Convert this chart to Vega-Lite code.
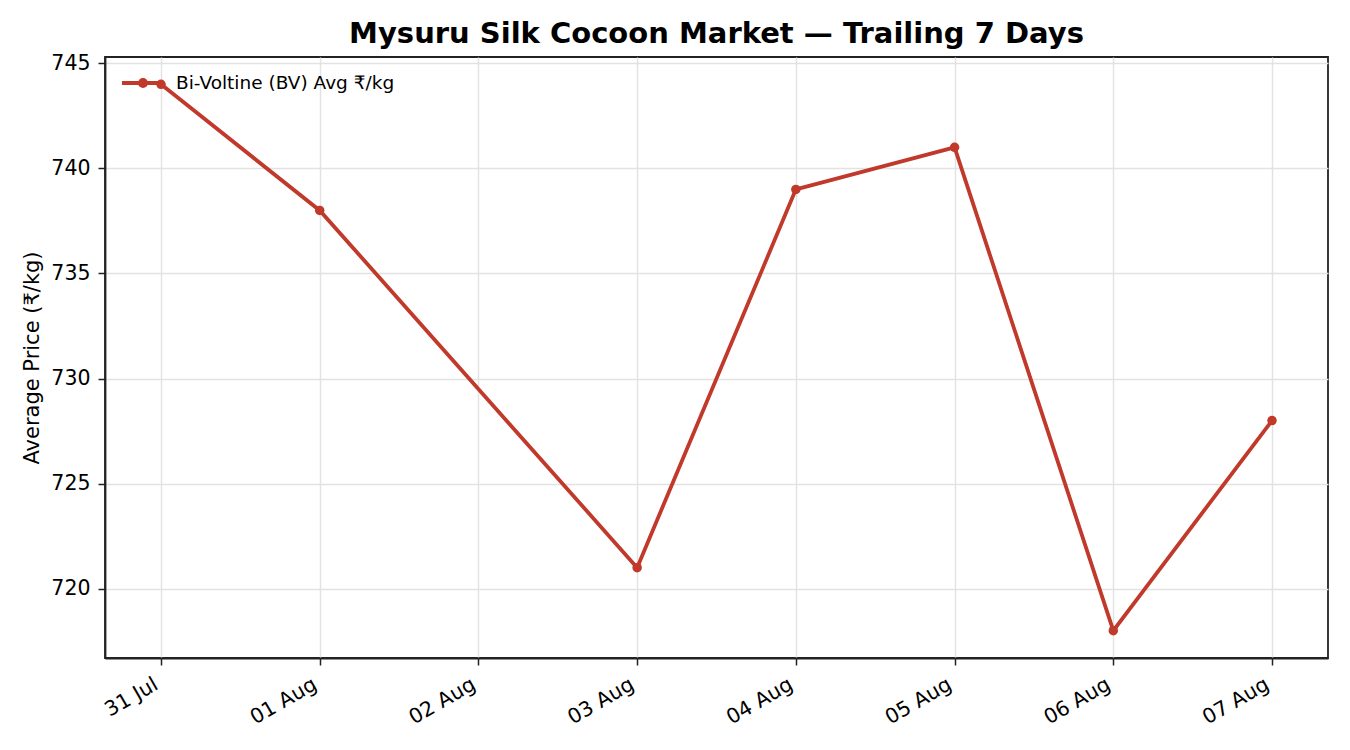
{
  "$schema": "https://vega.github.io/schema/vega-lite/v6.json",
  "autosize": "none",
  "width": 1223,
  "height": 601,
  "padding": {"left": 105, "top": 57, "right": 22, "bottom": 92},
  "background": "white",
  "config": {
    "font": "DejaVu Sans",
    "view": {"stroke": "#222222", "strokeWidth": 1.8},
    "axis": {
      "labelFont": "DejaVu Sans",
      "titleFont": "DejaVu Sans",
      "labelFontSize": 20.5,
      "titleFontSize": 21,
      "labelColor": "#000000",
      "titleColor": "#000000",
      "titleFontWeight": "normal",
      "domainColor": "#222222",
      "domainWidth": 1.8,
      "tickColor": "#222222",
      "tickWidth": 1.5,
      "tickSize": 7,
      "gridColor": "#e2e2e2",
      "gridWidth": 1.4
    }
  },
  "title": {
    "text": "Mysuru Silk Cocoon Market — Trailing 7 Days",
    "font": "DejaVu Sans",
    "fontSize": 29,
    "fontWeight": "bold",
    "color": "#000000",
    "anchor": "middle",
    "offset": 4
  },
  "data": {
    "values": [
      {"date": "2025-07-31", "price": 744, "series": "Bi-Voltine (BV) Avg ₹/kg"},
      {"date": "2025-08-01", "price": 738, "series": "Bi-Voltine (BV) Avg ₹/kg"},
      {"date": "2025-08-03", "price": 721, "series": "Bi-Voltine (BV) Avg ₹/kg"},
      {"date": "2025-08-04", "price": 739, "series": "Bi-Voltine (BV) Avg ₹/kg"},
      {"date": "2025-08-05", "price": 741, "series": "Bi-Voltine (BV) Avg ₹/kg"},
      {"date": "2025-08-06", "price": 718, "series": "Bi-Voltine (BV) Avg ₹/kg"},
      {"date": "2025-08-07", "price": 728, "series": "Bi-Voltine (BV) Avg ₹/kg"}
    ]
  },
  "mark": {
    "type": "line",
    "strokeWidth": 3.8,
    "point": {"filled": true, "size": 90}
  },
  "encoding": {
    "x": {
      "field": "date",
      "type": "temporal",
      "title": null,
      "scale": {
        "type": "utc",
        "domain": ["2025-07-30T15:32:00Z", "2025-08-07T08:28:00Z"]
      },
      "axis": {
        "format": "%d %b",
        "tickCount": {"interval": "day", "step": 1},
        "labelAngle": -30,
        "labelAlign": "right",
        "labelBaseline": "top",
        "labelPadding": 9,
        "labelOffset": -10,
        "grid": true
      }
    },
    "y": {
      "field": "price",
      "type": "quantitative",
      "title": "Average Price (₹/kg)",
      "scale": {"domain": [716.7, 745.3], "nice": false, "zero": false},
      "axis": {"values": [720, 725, 730, 735, 740, 745], "grid": true, "titlePadding": 8, "labelPadding": 8}
    },
    "color": {
      "field": "series",
      "type": "nominal",
      "scale": {"range": ["#c0392b"]},
      "legend": {
        "title": null,
        "orient": "none",
        "legendX": 15,
        "legendY": 3,
        "symbolType": "M-1,0H1M-0.15,0A0.15,0.15 0 1,0 0.15,0A0.15,0.15 0 1,0 -0.15,0",
        "symbolSize": 1764,
        "symbolStrokeWidth": 3.8,
        "symbolFillColor": "#c0392b",
        "labelFont": "DejaVu Sans",
        "labelFontSize": 18.5,
        "labelColor": "#000000",
        "labelOffset": 10,
        "labelLimit": 500,
        "padding": 0
      }
    }
  }
}
